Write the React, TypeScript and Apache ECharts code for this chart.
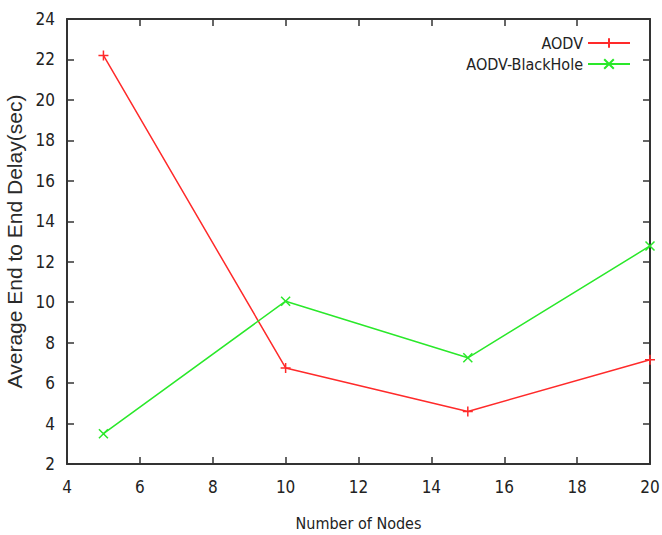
import React, { useEffect, useRef } from "react";
import * as echarts from "echarts";

const nodes = [5, 10, 15, 20];
const aodv = [22.2, 6.75, 4.6, 7.15];
const aodvBlackHole = [3.5, 10.05, 7.25, 12.78];
const seriesNames = ["AODV", "AODV-BlackHole"];
const xTitle = "Number of Nodes";
const yTitle = "Average End to End Delay(sec)";

const FONT = "'DejaVu Sans Condensed', 'DejaVu Sans', sans-serif";
const PLUS = "path://M0,5L10,5M5,0L5,10";
const CROSS = "path://M0,0L10,10M10,0L0,10";

export default function App() {
  const ref = useRef<HTMLDivElement>(null);
  useEffect(() => {
    if (!ref.current) return;
    const chart = echarts.init(ref.current, null, { renderer: "svg" });
    const axisLine = { show: true, lineStyle: { color: "#333", width: 2 } };
    const tick = { show: true, inside: true, length: 7, lineStyle: { color: "#333", width: 1.5 } };
    chart.setOption({
      animation: false,
      backgroundColor: "#fff",
      grid: { left: 67, right: 12, top: 19, bottom: 71, containLabel: false, outerBoundsMode: "none" },
      legend: {
        data: seriesNames,
        orient: "vertical",
        right: 26,
        top: 30,
        align: "right",
        itemWidth: 42,
        itemHeight: 12,
        itemGap: 5,
        textStyle: { fontFamily: FONT, fontSize: 16, color: "#222" },
      },
      xAxis: [
        {
          type: "value",
          min: 4,
          max: 20,
          interval: 2,
          position: "bottom",
          name: xTitle,
          nameLocation: "middle",
          nameGap: 51,
          nameTextStyle: { fontFamily: FONT, fontSize: 16, color: "#222" },
          axisLine,
          axisTick: tick,
          splitLine: { show: false },
          axisLabel: { fontFamily: FONT, fontSize: 17, color: "#222", margin: 14 },
        },
        {
          type: "value",
          min: 4,
          max: 20,
          interval: 2,
          position: "top",
          axisLine,
          axisTick: tick,
          splitLine: { show: false },
          axisLabel: { show: false },
        },
      ],
      yAxis: [
        {
          type: "value",
          min: 2,
          max: 24,
          interval: 2,
          position: "left",
          name: yTitle,
          nameLocation: "middle",
          nameGap: 42,
          nameTextStyle: { fontFamily: "'Liberation Sans', sans-serif", fontSize: 21, color: "#2a2a2a" },
          axisLine,
          axisTick: tick,
          splitLine: { show: false },
          axisLabel: { fontFamily: FONT, fontSize: 17, color: "#222", margin: 12 },
        },
        {
          type: "value",
          min: 2,
          max: 24,
          interval: 2,
          position: "right",
          axisLine,
          axisTick: tick,
          splitLine: { show: false },
          axisLabel: { show: false },
        },
      ],
      series: [
        {
          name: seriesNames[0],
          type: "line",
          data: nodes.map((n, i) => [n, aodv[i]]),
          symbol: PLUS,
          symbolSize: 10,
          showAllSymbol: true,
          lineStyle: { color: "#ff2a2a", width: 1.5 },
          itemStyle: { color: "#ff2a2a", borderColor: "#ff2a2a", borderWidth: 1.5 },
        },
        {
          name: seriesNames[1],
          type: "line",
          data: nodes.map((n, i) => [n, aodvBlackHole[i]]),
          symbol: CROSS,
          symbolSize: 9,
          showAllSymbol: true,
          lineStyle: { color: "#2ae82a", width: 1.5 },
          itemStyle: { color: "#2ae82a", borderColor: "#2ae82a", borderWidth: 1.5 },
        },
      ],
    });
    return () => chart.dispose();
  }, []);
  return <div ref={ref} style={{ width: 662, height: 535, position: "absolute", left: 0, top: 0 }} />;
}
